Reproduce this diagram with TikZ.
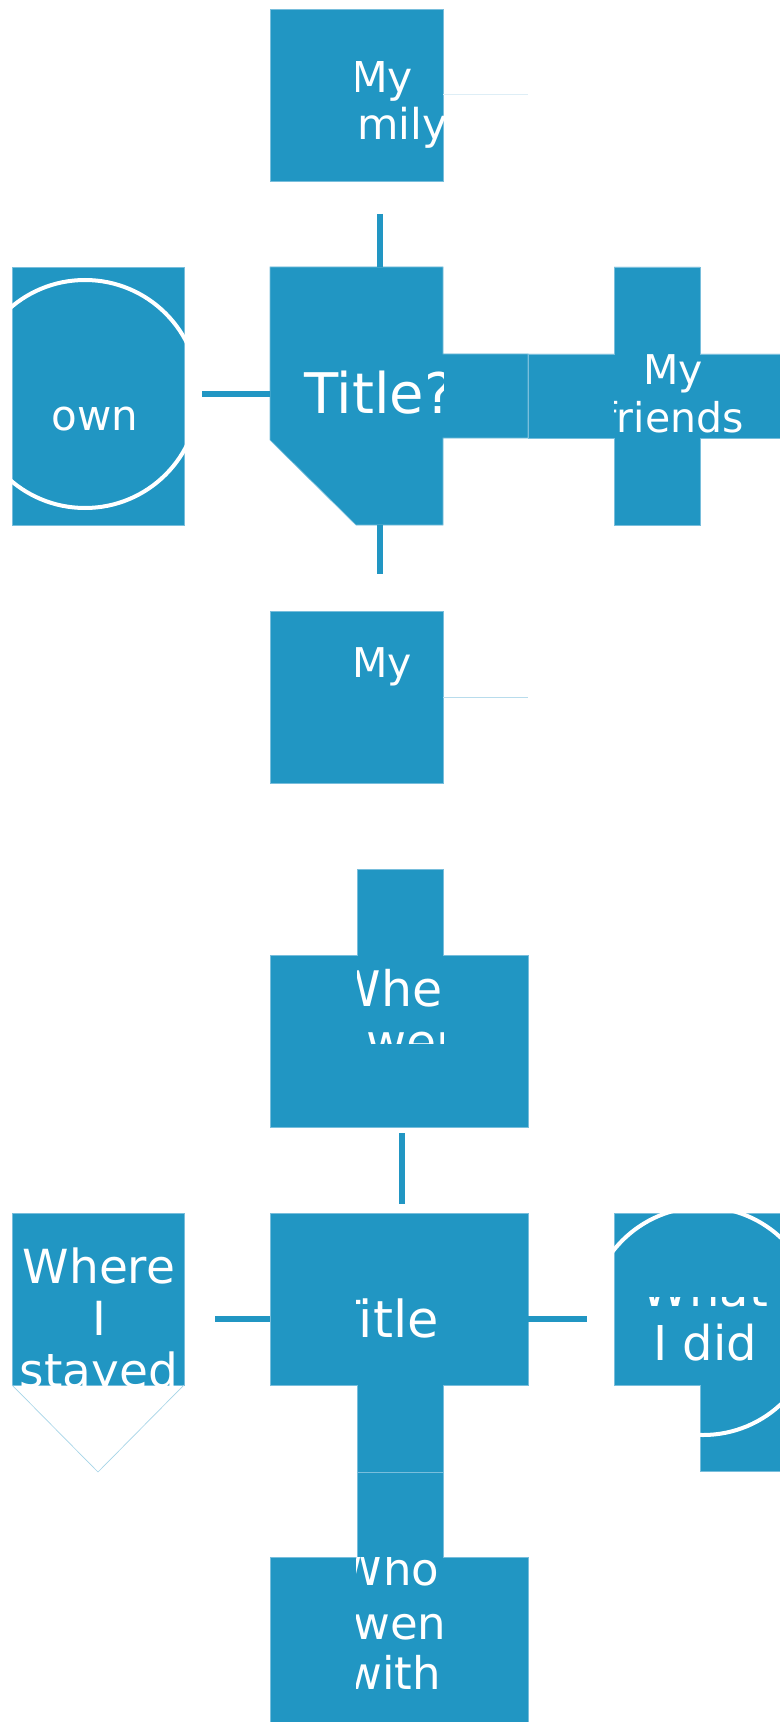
\documentclass[tikz,border=0pt]{standalone}
\usepackage{fontspec}
\setmainfont{DejaVu Sans}
\usetikzlibrary{fit}
\definecolor{boxblue}{RGB}{33,150,195}
\definecolor{edgeblue}{RGB}{120,190,220}
\definecolor{faintblue}{RGB}{222,238,246}

\begin{document}
\begin{tikzpicture}
[x=0.75pt,y=-0.75pt,
blk/.style={fill=boxblue,draw=edgeblue,line width=0.5pt},
hold/.style={inner sep=0pt,outer sep=0pt},
cnx/.style={draw=boxblue,line width=4.2pt},
ring/.style={draw=white,line width=3pt},
thin/.style={draw=faintblue,line width=0.75pt},
lbl/.style={text=white,anchor=base,inner sep=0pt},
fz/.style={font=\fontsize{#1}{#1}\selectfont}]
\useasboundingbox[fill=white] (0,0) rectangle (779,1722);
%%%%% UPPER GROUP
\fill[blk] (270,9) rectangle (443,181);
\node[hold,fit={(270,9) (443,181)}] (famB) {};
\draw[thin] (famB.east) -- ++(85,0);
\fill[blk] (270,267) -- (443,267) -- (443,354) -- (528,354) -- (528,438) -- (443,438)
  -- (443,525) -- (356,525) -- (270,440) -- cycle;
\node[hold,fit={(270,267) (443,525)}] (ttlA) {};
\fill[blk] (614,267) -- (700,267) -- (700,354) -- (782,354) -- (782,438) -- (700,438)
  -- (700,525) -- (614,525) -- (614,438) -- (528,438) -- (528,354) -- (614,354) -- cycle;
\node[hold,fit={(614,267) (700,525)}] (frdB) {};
\fill[blk] (12,267) rectangle (184,525);
\node[hold,fit={(12,267) (184,525)}] (ownB) {};
\draw[ring] (85,394) circle [radius=85.5pt];
\fill[blk] (270,611) rectangle (443,783);
\node[hold,fit={(270,611) (443,783)}] (myB) {};
\draw[thin,draw=faintblue!80!boxblue] (443,697) -- (528,697);
% connectors
\coordinate (famTail) at (380,214);
\draw[cnx] (famTail) -- (famTail |- ttlA.north);
\coordinate (myTail) at (380,574);
\draw[cnx] (myTail |- ttlA.south) -- (myTail);
\coordinate (ownTail) at (202,394);
\draw[cnx] (ownTail) -- (ownTail -| ttlA.west);
% labels
\begin{scope}
\clip (356,9) rectangle (443,181);
\node[lbl,fz=31.9pt] (famL1) at (382,93) {My};
\node[lbl,fz=31.9pt] (famL2) at (382,140) {family};
\end{scope}
\begin{scope}
\clip (270,267) rectangle (443,525);
\node[lbl,fz=42pt] (ttlAL) at (379,413) {Title?};
\end{scope}
\node[lbl,fz=31.5pt] (ownL) at (95,431) {own};
\begin{scope}
\clip (614,267) rectangle (779,525);
\node[lbl,fz=30.75pt] (frdL1) at (673,385) {My};
\node[lbl,fz=30.75pt] (frdL2) at (673,432) {friends};
\end{scope}
\begin{scope}
\clip (356,611) rectangle (443,697);
\node[lbl,fz=30.75pt] (myL) at (382,677) {My};
\end{scope}
%%%%% LOWER GROUP
\fill[blk] (357,869) -- (443,869) -- (443,955) -- (528,955) -- (528,1127) -- (270,1127)
  -- (270,955) -- (357,955) -- cycle;
\node[hold,fit={(270,955) (528,1127)}] (wentB) {};
\fill[blk] (12,1213) rectangle (184,1385);
\node[hold,fit={(12,1213) (184,1385)}] (stayB) {};
\draw[thin,draw=faintblue!70!boxblue,line width=0.5pt] (stayB.south west) -- (98,1472) -- (stayB.south east);
\fill[blk] (270,1213) -- (528,1213) -- (528,1385) -- (443,1385) -- (443,1472) -- (357,1472)
  -- (357,1385) -- (270,1385) -- cycle;
\node[hold,fit={(270,1213) (528,1385)}] (ttlB) {};
\fill[blk] (357,1472) -- (443,1472) -- (443,1557) -- (528,1557) -- (528,1730) -- (270,1730)
  -- (270,1557) -- (357,1557) -- cycle;
\node[hold,fit={(270,1557) (528,1722)}] (whoB) {};
\fill[blk] (614,1213) -- (782,1213) -- (782,1471) -- (700,1471) -- (700,1385) -- (614,1385) -- cycle;
\node[hold,fit={(614,1213) (779,1385)}] (didB) {};
\draw[ring] (703,1321) circle [radius=85.5pt];
% connectors
\coordinate (wentTop) at (402,1133);
\coordinate (wentTail) at (402,1204);
\draw[cnx] (wentTop) -- (wentTail);
\coordinate (stayTail) at (215,1319);
\draw[cnx] (stayTail) -- (stayTail -| ttlB.west);
\coordinate (didTail) at (587,1319);
\draw[cnx] (ttlB.east |- didTail) -- (didTail);
% labels
\begin{scope}
\clip (357,869) rectangle (443,1043);
\node[lbl,fz=36.75pt] (wentL1) at (412,1006) {Where};
\node[lbl,fz=36.75pt] (wentL2) at (412,1059) {I went};
\end{scope}
\begin{scope}
\clip (12,1213) rectangle (184,1385);
\node[lbl,fz=35.25pt] (stayL1) at (99,1283) {Where};
\node[lbl,fz=35.25pt] (stayL2) at (99,1335) {I};
\node[lbl,fz=35.25pt] (stayL3) at (99,1387) {stayed};
\end{scope}
\begin{scope}
\clip (356,1213) rectangle (443,1385);
\node[lbl,fz=38.25pt] (ttlBL) at (384,1337) {Title};
\end{scope}
\begin{scope}
\clip (614,1297) rectangle (779,1385);
\node[lbl,fz=36pt] (didL1) at (705,1306) {What};
\node[lbl,fz=36pt] (didL2) at (705,1360) {I did};
\end{scope}
\begin{scope}
\clip (356,1557) rectangle (443,1722);
\node[lbl,fz=33.75pt] (whoL1) at (389,1585) {Who};
\node[lbl,fz=33.75pt] (whoL2) at (395,1639) {I went};
\node[lbl,fz=33.75pt] (whoL3) at (393,1689) {with};
\end{scope}
\end{tikzpicture}
\end{document}
